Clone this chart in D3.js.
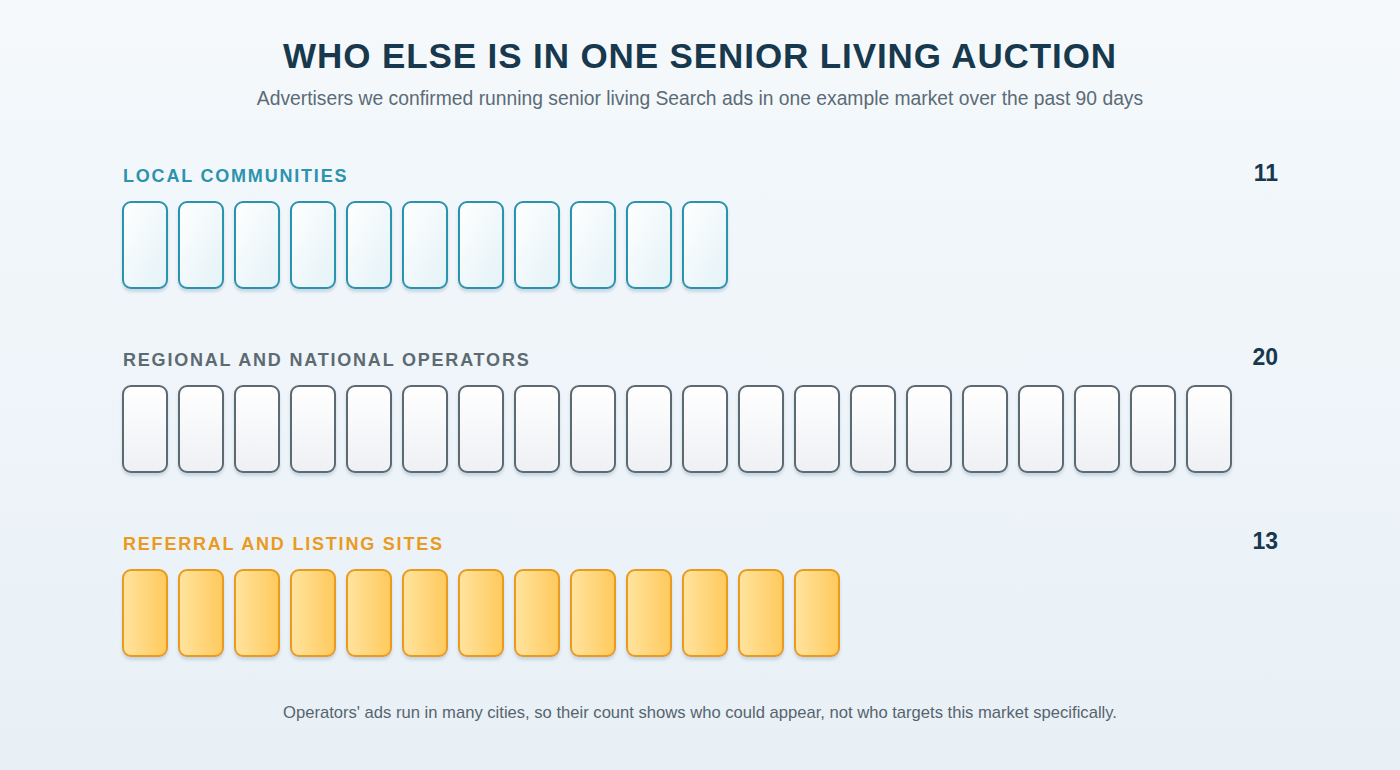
<!DOCTYPE html>
<html><head><meta charset="utf-8">
<script src="https://cdn.jsdelivr.net/npm/d3@7"></script>
<style>
html,body{margin:0;padding:0}
body{width:1400px;height:770px;background:linear-gradient(#f5f9fc,#e8f0f6);font-family:"Liberation Sans",Arial,sans-serif}
</style></head><body>
<script>
// chart data
var groups = ['LOCAL COMMUNITIES', 'REGIONAL AND NATIONAL OPERATORS', 'REFERRAL AND LISTING SITES']
var counts = [11, 20, 13]
var title = 'WHO ELSE IS IN ONE SENIOR LIVING AUCTION'
var subtitle = 'Advertisers we confirmed running senior living Search ads in one example market over the past 90 days'
var footnote = "Operators' ads run in many cities, so their count shows who could appear, not who targets this market specifically."

var styles = [
  {label: '#2b93ad', stroke: '#2b93ad', g0: '#ffffff', g1: '#e3f2f7', dir: 'diag'},
  {label: '#5d6a72', stroke: '#5d6a72', g0: '#ffffff', g1: '#eef0f4', dir: 'vert'},
  {label: '#ea9a1e', stroke: '#ea9a1e', g0: '#ffe49f', g1: '#ffc95c', dir: 'horiz'}
]

var svg = d3.select('body').append('svg').attr('width', 1400).attr('height', 770)
var defs = svg.append('defs')
styles.forEach(function (s, i) {
  var g = defs.append('linearGradient').attr('id', 'g' + i)
  if (s.dir === 'diag') g.attr('x1', 0).attr('y1', 0).attr('x2', 1).attr('y2', 1)
  else if (s.dir === 'vert') g.attr('x1', 0).attr('y1', 0).attr('x2', 0).attr('y2', 1)
  else g.attr('x1', 0).attr('y1', 0).attr('x2', 1).attr('y2', 0)
  g.append('stop').attr('offset', 0).attr('stop-color', s.g0)
  g.append('stop').attr('offset', 1).attr('stop-color', s.g1)
})
var f = defs.append('filter').attr('id', 'sh').attr('x', -0.2).attr('y', -0.2).attr('width', 1.4).attr('height', 1.4)
f.append('feDropShadow').attr('dx', 0).attr('dy', 3).attr('stdDeviation', 1.5).attr('flood-color', '#9ab4c8').attr('flood-opacity', 0.45)

svg.append('text').attr('x', 700).attr('y', 68).attr('text-anchor', 'middle')
  .attr('font-size', 35).attr('font-weight', 'bold').attr('letter-spacing', 0.9).attr('fill', '#17384d').text(title)
svg.append('text').attr('x', 700).attr('y', 105).attr('text-anchor', 'middle')
  .attr('font-size', 19.3).attr('fill', '#5b6b76').text(subtitle)
svg.append('text').attr('x', 700).attr('y', 718).attr('text-anchor', 'middle')
  .attr('font-size', 16.6).attr('fill', '#56646e').text(footnote)

var maxN = d3.max(counts)
var x = d3.scaleLinear().domain([0, maxN]).range([122, 122 + maxN * 56])
var y = d3.scaleBand().domain(groups).range([160, 712]).paddingInner(0)

groups.forEach(function (name, i) {
  var s = styles[i]
  var row = svg.append('g').attr('transform', 'translate(0,' + y(name) + ')')
  row.append('text').attr('x', 123).attr('y', 22).attr('font-size', 18).attr('font-weight', 'bold')
    .attr('letter-spacing', 1.8).attr('fill', s.label).text(name)
  row.append('text').attr('x', 1278).attr('y', 21).attr('text-anchor', 'end').attr('font-size', 23)
    .attr('font-weight', 'bold').attr('fill', '#17384d').text(counts[i])
  row.selectAll('rect').data(d3.range(counts[i])).join('rect')
    .attr('x', function (d) { return x(d) + 1 })
    .attr('y', 42)
    .attr('width', 44).attr('height', 86).attr('rx', 8)
    .attr('fill', 'url(#g' + i + ')').attr('stroke', s.stroke).attr('stroke-width', 2)
    .attr('filter', 'url(#sh)')
})
</script>
</body></html>
